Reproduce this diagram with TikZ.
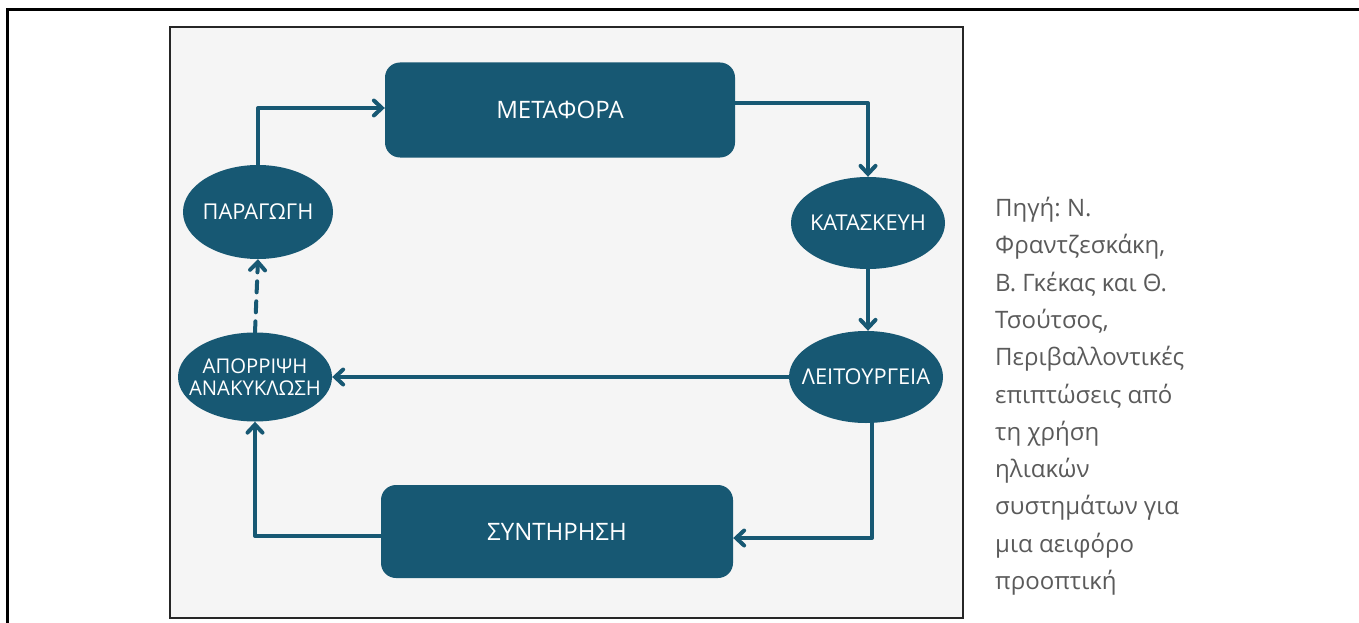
\documentclass[tikz,border=0pt]{standalone}
\usepackage{fontspec}
\setmainfont{Open Sans}
\usetikzlibrary{arrows.meta,shapes.geometric}
\definecolor{teal}{RGB}{23,88,115}
\definecolor{panel}{RGB}{245,245,245}
\definecolor{captxt}{RGB}{90,90,90}
\tikzset{
  boxnode/.style={draw=none,fill=teal,rounded corners=15pt,text=white,
    font=\fontsize{24}{28}\selectfont,inner sep=0pt},
  ellnode/.style={ellipse,draw=none,fill=teal,inner sep=0pt},
  elltext/.style={text=white,inner sep=0pt,align=center,
    font=\fontsize{21.8}{24}\selectfont},
  conn/.style={draw=teal,line width=4pt,line cap=round,line join=round,
    -{Straight Barb[length=8pt,width=15pt,line cap=round]}},
}
\begin{document}
\frenchspacing
\begin{tikzpicture}[x=1pt,y=-1pt]
\useasboundingbox (0,0) rectangle (1359,623);
\clip (0,0) rectangle (1359,623);
% outer frame
\draw[line width=3pt,black] (7,10) rectangle (1380,640);
% panel
\draw[line width=2pt,fill=panel,draw=black!85] (170,27) rectangle (963,618);
% nodes
\node[boxnode,minimum width=350pt,minimum height=95pt] (meta) at (560,110) {ΜΕΤΑΦΟΡΑ};
\node[boxnode,minimum width=352pt,minimum height=93pt] (synt) at (557,531.5) {ΣΥΝΤΗΡΗΣΗ};
\node[ellnode,minimum width=150pt,minimum height=94pt,
  label={[elltext]center:ΠΑΡΑΓΩΓΗ}] (parag) at (258,212) {};
\node[ellnode,minimum width=154pt,minimum height=92pt,
  label={[elltext]center:ΚΑΤΑΣΚΕΥΗ}] (katask) at (868,223) {};
\node[ellnode,minimum width=154pt,minimum height=92pt,
  label={[elltext]center:ΛΕΙΤΟΥΡΓΕΙΑ}] (leit) at (866,377) {};
\node[ellnode,minimum width=154pt,minimum height=89pt,
  label={[elltext,font=\fontsize{20.3}{22}\selectfont]center:ΑΠΟΡΡΙΨΗ\\ΑΝΑΚΥΚΛΩΣΗ}] (apor) at (255,377) {};
% connectors
\draw[conn] (parag.north) |- (meta.west |- 0,108);
\draw[conn] (meta.east |- 0,103) -| (katask.north);
\draw[conn] (katask.south) -- (katask.south |- leit.north);
\draw[conn] (leit.west) -- (apor.east);
\draw[conn] (leit.south -| 872,0) |- (synt.east |- 0,538);
\draw[conn] (synt.west |- 0,536) -| (apor.south);
\draw[conn,dash pattern=on 11pt off 9pt] (apor.north) -- (parag.south);
% caption
\node[anchor=north west,inner sep=0pt,align=left,text=captxt,
  font=\fontsize{24}{37.3}\selectfont] (cap) at (995,197)
  {Πηγή: Ν.\\Φραντζεσκάκη,\\Β. Γκέκας και Θ.\\Τσούτσος,\\Περιβαλλοντικές\\επιπτώσεις από\\τη χρήση\\ηλιακών\\συστημάτων για\\μια αειφόρο\\προοπτική};
\end{tikzpicture}
\end{document}
